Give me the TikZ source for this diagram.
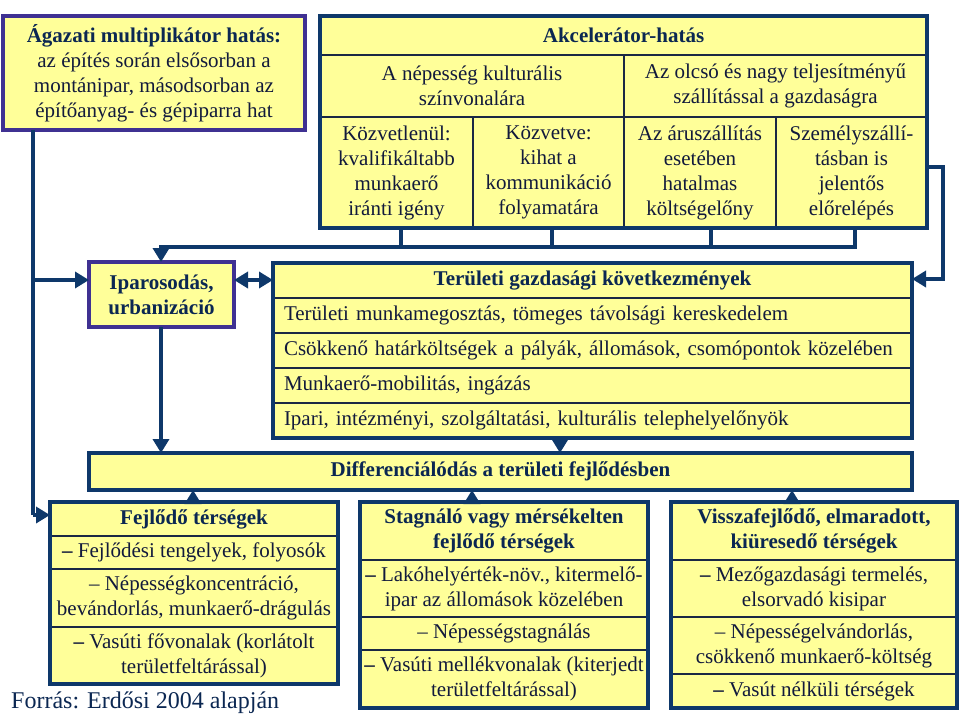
\documentclass[tikz,border=0pt]{standalone}
\usepackage{fontspec}
\setmainfont{Liberation Serif}
\usetikzlibrary{arrows.meta}
\definecolor{yel}{HTML}{FFFF99}
\definecolor{navy}{HTML}{0E386A}
\definecolor{purp}{HTML}{3F3192}
\definecolor{txt}{HTML}{121A3C}
\definecolor{htxt}{HTML}{0B2752}
\definecolor{divc}{HTML}{1A2844}
\newcommand\myfs{\fontsize{21}{25}\selectfont}
\tikzset{
  cell/.style={draw=divc, line width=1.6pt, fill=yel, inner sep=0pt, outer sep=0pt, font=\myfs, text=txt, align=center},
  hcell/.style={cell, font=\myfs\bfseries, text=htxt},
  lcell/.style={cell, align=left, inner xsep=11pt, text width=617pt},
  boxframe/.style={draw=navy, line width=3.2pt, inner sep=0pt, outer sep=0pt},
  pbox/.style={draw=purp, line width=3.2pt, fill=yel, inner sep=0pt, outer sep=0pt, font=\myfs, text=txt, align=center},
  conn/.style={draw=navy, line width=3.6pt},
  tip/.tip={Triangle[length=14pt,width=16pt]},
  arr/.style={conn, -tip},
}
\begin{document}
\begin{tikzpicture}[x=1pt,y=-1pt]
\useasboundingbox (0,0) rectangle (960,718);
% top-left
\node[pbox, minimum width=302pt, minimum height=114pt] (A) at (154,73)
  {\textcolor{htxt}{\textbf{Ágazati multiplikátor hatás:}}\\az építés során elsősorban a\\montánipar, másodsorban az\\építőanyag- és gépiparra hat};
% Akcelerator
\node[hcell, minimum width=607pt, minimum height=39pt] (Kh) at (623.5,35.5) {Akcelerátor-hatás};
\node[cell, minimum width=304pt, minimum height=62pt] (K2a) at (472,86) {A népesség kulturális\\színvonalára};
\node[cell, minimum width=303pt, minimum height=62pt] (K2b) at (775.5,86) {Az olcsó és nagy teljesítményű\\szállítással a gazdaságra};
\node[cell, minimum width=153pt, minimum height=111pt] (K3a) at (396.5,172.5) {Közvetlenül:\\kvalifikáltabb\\munkaerő\\iránti igény};
\node[cell, minimum width=151pt, minimum height=111pt] (K3b) at (548.5,172.5) {Közvetve:\\kihat a\\kommunikáció\\folyamatára};
\node[cell, minimum width=152pt, minimum height=111pt] (K3c) at (700,172.5) {Az áruszállítás\\esetében\\hatalmas\\költségelőny};
\node[cell, minimum width=151pt, minimum height=111pt] (K3d) at (851.5,172.5) {Személyszállí-\\tásban is\\jelentős\\előrelépés};
\node[boxframe, minimum width=607pt, minimum height=212pt] (K) at (623.5,122) {};
% Iparosodas
\node[pbox, font=\myfs\bfseries, text=htxt, minimum width=145pt, minimum height=65pt] (I) at (161.5,294.5) {Iparosodás,\\urbanizáció};
% Teruleti
\node[hcell, minimum width=639pt, minimum height=35pt] (Th) at (592.5,280.5) {Területi gazdasági következmények};
\node[lcell, minimum height=35pt] (T1) at (592.5,315.5) {Területi munkamegosztás, tömeges távolsági kereskedelem};
\node[lcell, minimum height=35pt] (T2) at (592.5,350.5) {Csökkenő határköltségek a pályák, állomások, csomópontok közelében};
\node[lcell, minimum height=35pt] (T3) at (592.5,385.5) {Munkaerő-mobilitás, ingázás};
\node[lcell, minimum height=35pt] (T4) at (592.5,420.5) {Ipari, intézményi, szolgáltatási, kulturális telephelyelőnyök};
\node[boxframe, minimum width=639pt, minimum height=175pt] (T) at (592.5,350.5) {};
% Differencialodas
\node[hcell, boxframe, fill=yel, minimum width=823pt, minimum height=37pt] (D) at (500.5,471.5) {Differenciálódás a területi fejlődésben};
% Fejlodo
\node[hcell, minimum width=288pt, minimum height=34pt] (Fh) at (194,519) {Fejlődő térségek};
\node[cell, minimum width=288pt, minimum height=33pt] (F1) at (194,552.5) {{\bfseries –} Fejlődési tengelyek, folyosók};
\node[cell, minimum width=288pt, minimum height=58pt] (F2) at (194,598) {– Népességkoncentráció,\\bevándorlás, munkaerő-drágulás};
\node[cell, minimum width=288pt, minimum height=57pt] (F3) at (194,655.5) {{\bfseries –} Vasúti fővonalak (korlátolt\\területfeltárással)};
\node[boxframe, minimum width=288pt, minimum height=182pt] (F) at (194,593) {};
% Stagnalo
\node[hcell, minimum width=288pt, minimum height=58pt] (Sh) at (504,531) {Stagnáló vagy mérsékelten\\fejlődő térségek};
\node[cell, minimum width=288pt, minimum height=57pt] (S1) at (504,588.5) {{\bfseries –} Lakóhelyérték-növ., kitermelő-\\ipar az állomások közelében};
\node[cell, minimum width=288pt, minimum height=33pt] (S2) at (504,633.5) {– Népességstagnálás};
\node[cell, minimum width=288pt, minimum height=58pt] (S3) at (504,679) {{\bfseries –} Vasúti mellékvonalak (kiterjedt\\területfeltárással)};
\node[boxframe, minimum width=288pt, minimum height=206pt] (S) at (504,605) {};
% Visszafejlodo
\node[hcell, minimum width=286pt, minimum height=58pt] (Vh) at (814,531) {Visszafejlődő, elmaradott,\\kiüresedő térségek};
\node[cell, minimum width=286pt, minimum height=57pt] (V1) at (814,588.5) {{\bfseries –} Mezőgazdasági termelés,\\elsorvadó kisipar};
\node[cell, minimum width=286pt, minimum height=57pt] (V2) at (814,645.5) {– Népességelvándorlás,\\csökkenő munkaerő-költség};
\node[cell, minimum width=286pt, minimum height=34pt] (V3) at (814,691) {{\bfseries –} Vasút nélküli térségek};
\node[boxframe, minimum width=286pt, minimum height=206pt] (V) at (814,605) {};
% source
\node[anchor=west, inner sep=0pt, text=htxt, font=\fontsize{24}{28}\selectfont] (src) at (11,703) {Forrás: Erdősi 2004 alapján};
% connectors
\coordinate (L1) at (33,280);
\coordinate (L2) at (33,515);
\draw[conn] (A.south -| L1) -- (L2);
\draw[arr] (L2) -- (F.west |- L2);
\draw[arr] (L1) -- (I.west |- L1);
\draw[conn, tip-tip] (I.east |- L1) -- (T.west |- L1);
\coordinate (B0) at (161,247);
\coordinate (B1) at (401,247);
\coordinate (B2) at (552,247);
\coordinate (B3) at (711,247);
\coordinate (B4) at (855,247);
\draw[conn] (K.south -| B1) -- (B1);
\draw[conn] (K.south -| B2) -- (B2);
\draw[conn] (K.south -| B3) -- (B3);
\draw[arr] (K.south -| B4) -- (B4) -- (B0) -- (I.north -| B0);
\coordinate (R1) at (943,167);
\coordinate (R2) at (943,279);
\draw[arr] (K.east |- R1) -- (R1) -- (R2) -- (T.east |- R2);
\draw[arr] (I.south -| B0) -- (D.north -| B0);
\coordinate (M) at (560,0);
\draw[arr] (T.south -| M) -- (D.north -| M);
\coordinate (U1) at (193,0);
\coordinate (U2) at (472,0);
\coordinate (U3) at (792,0);
\draw[arr] (F.north -| U1) -- (D.south -| U1);
\draw[arr] (S.north -| U2) -- (D.south -| U2);
\draw[arr] (V.north -| U3) -- (D.south -| U3);
\end{tikzpicture}
\end{document}
